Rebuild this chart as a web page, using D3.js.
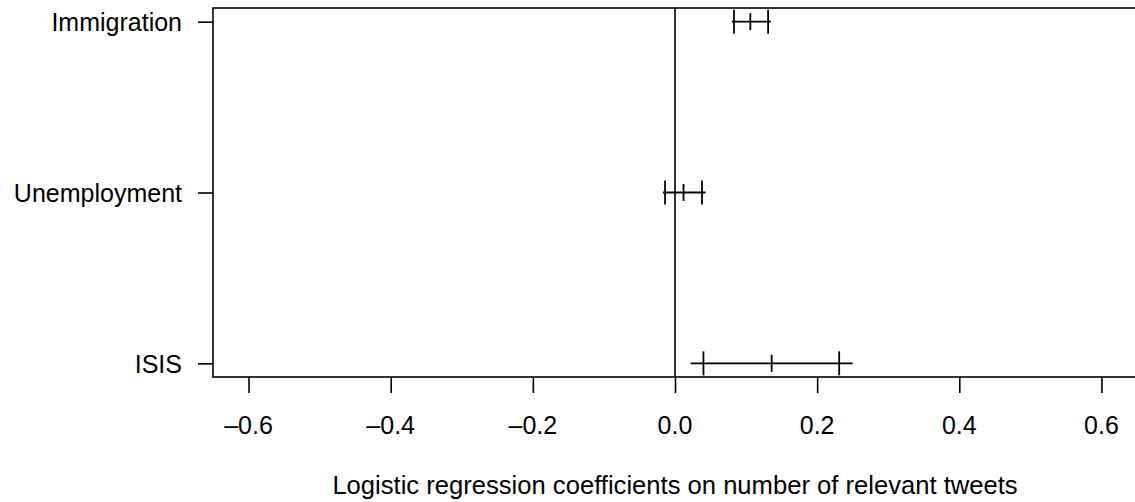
<!DOCTYPE html>
<html>
<head>
<meta charset="utf-8">
<script src="https://cdn.jsdelivr.net/npm/d3@7"></script>
<style>
  body { margin: 0; background: #fff; }
  text { font-family: "Liberation Sans", Arial, sans-serif; font-size: 25px; fill: #000; }
  .xtitle { font-size: 25.6px; }
</style>
</head>
<body>
<svg width="1135" height="502"></svg>
<script>
// topics, top to bottom
const topics = ["Immigration", "Unemployment", "ISIS"]
const estimate = [0.106, 0.012, 0.136]
const lo95 = [0.080, -0.017, 0.022]
const hi95 = [0.135, 0.043, 0.250]
const lo90 = [0.083, -0.014, 0.040]
const hi90 = [0.131, 0.038, 0.231]
const xTicks = [-0.6, -0.4, -0.2, 0.0, 0.2, 0.4, 0.6]
const xTitle = "Logistic regression coefficients on number of relevant tweets"

const rows = topics.map((t, i) => ({
  topic: t, est: estimate[i], lo95: lo95[i], hi95: hi95[i], lo90: lo90[i], hi90: hi90[i]
}))

const svg = d3.select("svg")
const plotLeft = 213, plotRight = 1137, plotTop = 8, plotBottom = 377

const x = d3.scaleLinear().domain([-0.65, 0.65]).range([plotLeft, plotRight])
const y = d3.scalePoint().domain(topics).range([plotTop, plotBottom]).padding(0.08)

const fmt = v => (v < 0 ? "\u2013" : "") + Math.abs(v).toFixed(1)

// box
svg.append("rect")
   .attr("x", plotLeft).attr("y", plotTop)
   .attr("width", plotRight - plotLeft).attr("height", plotBottom - plotTop)
   .attr("fill", "none").attr("stroke", "#000").attr("stroke-width", 1.6)

// zero line
svg.append("line")
   .attr("x1", x(0)).attr("x2", x(0))
   .attr("y1", plotTop).attr("y2", plotBottom)
   .attr("stroke", "#000").attr("stroke-width", 1.6)

// x axis
const gx = svg.append("g")
   .attr("transform", `translate(0,${plotBottom})`)
   .call(d3.axisBottom(x).tickValues(xTicks).tickSize(16).tickFormat(""))
gx.select(".domain").remove()
gx.selectAll("line").attr("stroke", "#000").attr("stroke-width", 1.6)

svg.selectAll(".xlab")
   .data(xTicks)
   .enter()
   .append("text")
   .classed("xlab", true)
   .attr("text-anchor", "middle")
   .attr("x", d => x(d))
   .attr("y", 434)
   .text(fmt)

// y axis
const gy = svg.append("g")
   .attr("transform", `translate(${plotLeft},0)`)
   .call(d3.axisLeft(y).tickSize(15).tickFormat(""))
gy.select(".domain").remove()
gy.selectAll("line").attr("stroke", "#000").attr("stroke-width", 1.6)

svg.selectAll(".ylab")
   .data(topics)
   .enter()
   .append("text")
   .classed("ylab", true)
   .attr("text-anchor", "end")
   .attr("x", 182)
   .attr("y", d => y(d) + 9.3)
   .text(d => d)

// x title
svg.append("text")
   .classed("xtitle", true)
   .attr("text-anchor", "middle")
   .attr("x", (plotLeft + plotRight) / 2)
   .attr("y", 494)
   .text(xTitle)

// intervals
const bars = svg.selectAll(".coef")
   .data(rows)
   .enter()
   .append("g")
   .classed("coef", true)
   .attr("stroke", "#000")
   .attr("stroke-width", 1.8)

bars.append("line")
   .attr("x1", d => x(d.lo95)).attr("x2", d => x(d.hi95))
   .attr("y1", d => y(d.topic)).attr("y2", d => y(d.topic))

bars.append("line")
   .attr("x1", d => x(d.lo90)).attr("x2", d => x(d.lo90))
   .attr("y1", d => y(d.topic) - 12).attr("y2", d => y(d.topic) + 12)

bars.append("line")
   .attr("x1", d => x(d.hi90)).attr("x2", d => x(d.hi90))
   .attr("y1", d => y(d.topic) - 12).attr("y2", d => y(d.topic) + 12)

bars.append("line")
   .attr("x1", d => x(d.est)).attr("x2", d => x(d.est))
   .attr("y1", d => y(d.topic) - 8.5).attr("y2", d => y(d.topic) + 8.5)
</script>
</body>
</html>
